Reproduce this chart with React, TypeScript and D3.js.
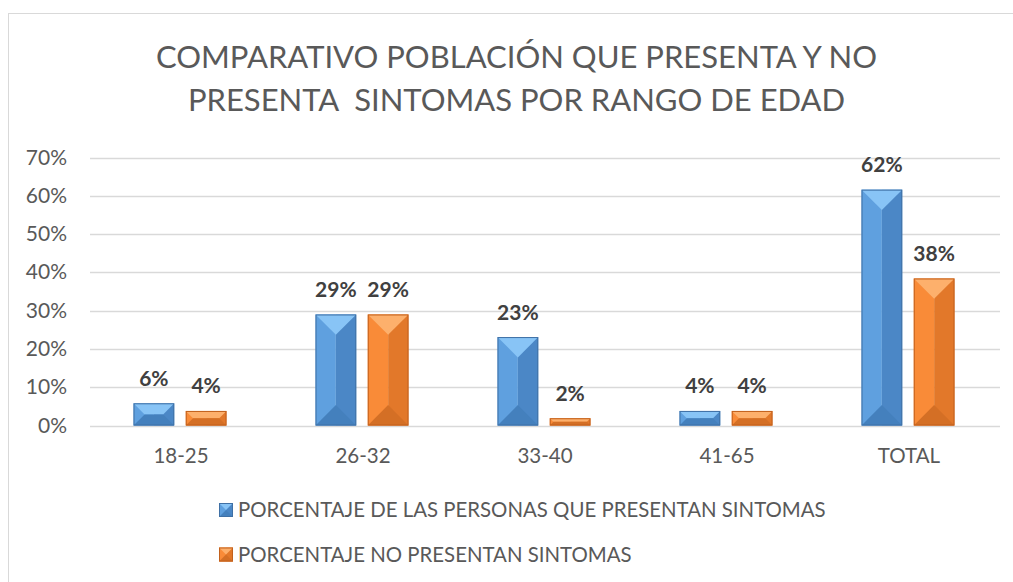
import React, { useEffect, useRef } from "react";
import * as d3 from "d3";

const categories = ["18-25", "26-32", "33-40", "41-65", "TOTAL"];
const conSintomas = [0.058, 0.29, 0.231, 0.038, 0.616];
const sinSintomas = [0.038, 0.29, 0.019, 0.038, 0.384];
const seriesNames = [
  "PORCENTAJE DE LAS PERSONAS QUE PRESENTAN SINTOMAS",
  "PORCENTAJE NO PRESENTAN SINTOMAS",
];
const yTicks = [0, 0.1, 0.2, 0.3, 0.4, 0.5, 0.6, 0.7];
const titleLines = ["COMPARATIVO POBLACIÓN QUE PRESENTA Y NO", "PRESENTA  SINTOMAS POR RANGO DE EDAD"];

// bevel palette: left, right, top, bottom, edge
const palettes = [
  { left: "#5fa0df", right: "#4b87c6", top: "#88c4f6", bottom: "#4480bd", edge: "#3f70a5" },
  { left: "#f98b38", right: "#e2782a", top: "#fdb06c", bottom: "#d46f25", edge: "#c2611d" },
];

const FONT = "Lato, 'Open Sans', sans-serif";

function drawBevel(g: any, x0: number, y0: number, w: number, h: number, p: any) {
  const x1 = x0 + w;
  const y1 = y0 + h;
  const cx = x0 + w / 2;
  const d = Math.min(w / 2, h / 2);
  g.append("rect").attr("x", x0).attr("y", y0).attr("width", w / 2).attr("height", h).attr("fill", p.left);
  g.append("rect").attr("x", cx).attr("y", y0).attr("width", w / 2).attr("height", h).attr("fill", p.right);
  g.append("polygon")
    .attr("points", [[x0, y0], [x1, y0], [x1 - d, y0 + d], [x0 + d, y0 + d]].map(q => q.join(",")).join(" "))
    .attr("fill", p.top);
  g.append("polygon")
    .attr("points", [[x0, y1], [x1, y1], [x1 - d, y1 - d], [x0 + d, y1 - d]].map(q => q.join(",")).join(" "))
    .attr("fill", p.bottom);
  g.append("rect")
    .attr("x", x0 + 0.5).attr("y", y0 + 0.5)
    .attr("width", Math.max(0, w - 1)).attr("height", Math.max(0, h - 1))
    .attr("fill", "none").attr("stroke", p.edge).attr("stroke-width", 1);
}

export default function App() {
  const ref = useRef<SVGSVGElement>(null);

  useEffect(() => {
    const svg = d3.select(ref.current);
    svg.selectAll("*").remove();

    const left = 90, right = 1000, top = 157.5, bottom = 425.5;

    // chart frame
    svg.append("rect")
      .attr("x", 8.5).attr("y", 13.5)
      .attr("width", 1100).attr("height", 700)
      .attr("fill", "#fff").attr("stroke", "#d9d9d9");

    // title
    const title = svg.append("text")
      .attr("text-anchor", "middle")
      .attr("font-family", FONT)
      .attr("font-size", 31)
      .attr("fill", "#595959")
      .style("white-space", "pre");
    titleLines.forEach((t, i) => {
      title.append("tspan").attr("x", 516.5).attr("y", 68 + i * 43).text(t);
    });

    const x = d3.scaleBand().domain(categories).range([left, right]);
    const y = d3.scaleLinear().domain([0, 0.7]).range([bottom, top]);
    const groupW = 93;
    const xs = d3.scaleBand<number>().domain([0, 1]).range([0, groupW]).paddingInner(0.22);

    // gridlines
    svg.append("g").selectAll("line").data(yTicks).enter().append("line")
      .attr("x1", left).attr("x2", right)
      .attr("y1", d => Math.round(y(d)) + 0.5).attr("y2", d => Math.round(y(d)) + 0.5)
      .attr("stroke", "#d9d9d9").attr("stroke-width", 1.3);

    // y labels
    svg.append("g").selectAll("text").data(yTicks).enter().append("text")
      .attr("x", 67).attr("y", d => y(d) + 7)
      .attr("text-anchor", "end")
      .attr("font-family", FONT).attr("font-size", 21).attr("fill", "#595959")
      .text(d => d3.format(".0%")(d));

    // x labels
    svg.append("g").selectAll("text").data(categories).enter().append("text")
      .attr("x", d => (x(d) as number) + x.bandwidth() / 2)
      .attr("y", 463)
      .attr("text-anchor", "middle")
      .attr("font-family", FONT).attr("font-size", 20.5).attr("fill", "#595959")
      .text(d => d);

    // bars
    const series = [conSintomas, sinSintomas];
    const bars = svg.append("g");
    const labels = svg.append("g");
    series.forEach((vals, si) => {
      vals.forEach((v, ci) => {
        const gx = (x(categories[ci]) as number) + x.bandwidth() / 2 - 1 - groupW / 2 + (xs(si) as number);
        const bw = xs.bandwidth();
        drawBevel(bars, gx, y(v), bw, bottom - y(v), palettes[si]);
        labels.append("text")
          .attr("x", gx + bw / 2).attr("y", y(v) - 17.5)
          .attr("text-anchor", "middle")
          .attr("font-family", FONT).attr("font-size", 21).attr("font-weight", "bold")
          .attr("fill", "#404040")
          .text(d3.format(".0%")(v));
      });
    });

    // legend
    seriesNames.forEach((name, i) => {
      const ly = 503 + i * 44.5;
      drawBevel(svg, 219, ly, 14, 14, palettes[i]);
      svg.append("text")
        .attr("x", 238).attr("y", ly + 14)
        .attr("font-family", FONT).attr("font-size", 20.4).attr("fill", "#595959")
        .text(name);
    });
  }, []);

  return <svg ref={ref} width={1013} height={582} style={{ position: "absolute", left: 0, top: 0 }} />;
}
